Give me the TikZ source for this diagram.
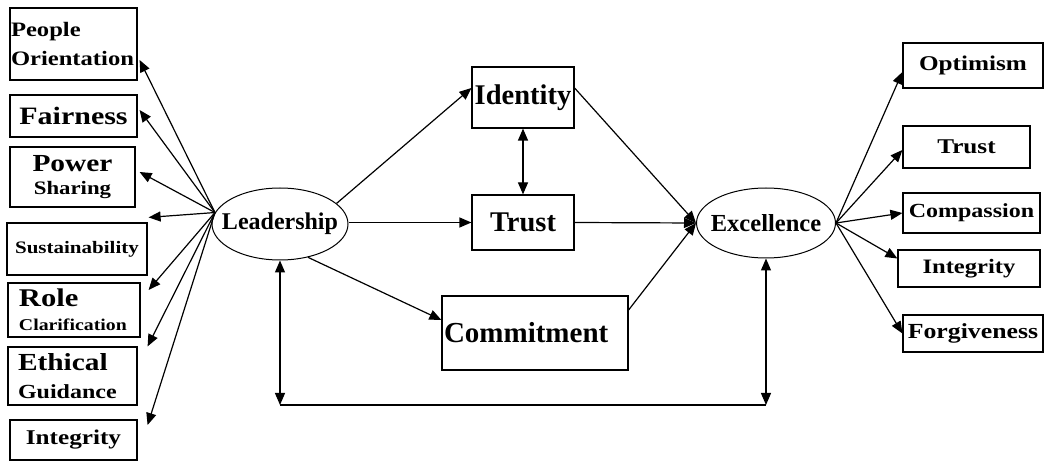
\documentclass[tikz,border=0pt]{standalone}
\usepackage{fontspec}
\setmainfont{Liberation Serif}
\newfontfamily\wide{Liberation Serif}[FakeStretch=1.2]
\usetikzlibrary{arrows.meta,shapes.geometric}
\newcommand\fsz[2]{\fontsize{#1}{#2}\selectfont}
\begin{document}
\begin{tikzpicture}[x=1pt,y=-1pt,
  every node/.style={inner sep=0pt},
  box/.style={draw,line width=1.2pt,font=\wide\bfseries},
  cbox/.style={draw,line width=1.2pt,font=\bfseries},
  oval/.style={draw,ellipse,line width=1pt,font=\bfseries},
  ar/.style={line width=1.2pt,-{Triangle[length=12pt,width=10pt]}},
  dar/.style={line width=1.2pt,{Triangle[length=12pt,width=10pt]}-{Triangle[length=12pt,width=10pt]}}]
\useasboundingbox (0,0) rectangle (1045,470);

% left boxes
\node[box,minimum width=127,minimum height=72,text width=125,align=left] (po) at (73.5,44) {\fsz{20.5}{20}People\\[9pt]Orientation};
\node[box,minimum width=127,minimum height=42] (fa) at (73.5,116) {\fsz{25}{25}Fairness};
\node[box,minimum width=125,minimum height=60,align=center] (ps) at (72.5,177) {\fsz{24.5}{24}Power\\[9pt]\fsz{19}{22}Sharing};
\node[box,minimum width=140,minimum height=52] (su) at (77,249) {\fsz{17.5}{17}Sustainability};
\node[box,minimum width=132,minimum height=54,text width=110,align=left] (rc) at (74,310) {\fsz{25.5}{25}Role\\[12pt]\fsz{16.5}{19}Clarification};
\node[box,minimum width=129,minimum height=58,text width=109,align=left] (eg) at (72.5,376) {\fsz{24.5}{25}Ethical\\[13pt]\fsz{20}{24}Guidance};
\node[box,minimum width=127,minimum height=40] (in) at (73.5,440) {\fsz{21}{21}Integrity};

% ellipses
\node[oval,minimum width=136,minimum height=72] (ld) at (280,224) {\makebox[0pt]{\fsz{24}{24}Leadership}};
\node[oval,minimum width=139,minimum height=70] (ex) at (766,223) {\makebox[0pt]{\fsz{24.5}{24}Excellence}};

% centre boxes
\node[cbox,minimum width=102,minimum height=61] (id) at (523,97.5) {\fsz{28.5}{28}Identity};
\node[cbox,minimum width=102,minimum height=55] (tr) at (523,222.5) {\fsz{28.5}{28}Trust};
\node[cbox,minimum width=186,minimum height=74,text width=184,align=left] (cm) at (535,333) {\hspace{1pt}\fsz{29}{29}Commitment};

% right boxes
\node[box,minimum width=140,minimum height=45] (op) at (973,65.5) {\fsz{21}{21}Optimism};
\node[box,minimum width=127,minimum height=42] (t2) at (966.5,147) {\fsz{21}{21}Trust};
\node[box,minimum width=137,minimum height=40] (co) at (971.5,213) {\fsz{20}{20}Compassion};
\node[box,minimum width=142,minimum height=37] (ig) at (969,268.5) {\fsz{20.5}{20}Integrity};
\node[box,minimum width=140,minimum height=37] (fo) at (973,333.5) {\fsz{21.5}{21}Forgiveness};

% leadership to left boxes
\draw[ar] (ld.170) -- ([xshift=2pt,yshift=-16pt]po.east);
\draw[ar] (ld.170) -- ([xshift=2pt,yshift=6pt]fa.east);
\draw[ar] (ld.170) -- ([xshift=4pt,yshift=5pt]ps.east);
\draw[ar] (ld.170) -- ([xshift=1pt,yshift=5pt]su.north east);
\draw[ar] (ld.170) -- ([xshift=8pt,yshift=20pt]rc.east);
\draw[ar] (ld.170) -- ([xshift=10pt]eg.north east);
\draw[ar] (ld.170) -- ([xshift=10pt,yshift=15pt]in.east);

% excellence to right boxes
\draw[ar] (ex.east) -- ([yshift=-6.5pt]op.west);
\draw[ar] (ex.east) -- ([yshift=-3pt]t2.west);
\draw[ar] (ex.east) -- (co.west);
\draw[ar] (ex.east) -- ([yshift=10pt]ig.west);
\draw[ar] (ex.east) -- (fo.west);

% centre connectors
\draw[ar] (ld.20) -- ([yshift=9.5pt]id.west);
\draw[ar] (ld.east |- tr.west) -- (tr.west);
\draw[ar] (ld.-50) -- ([yshift=13pt]cm.west);
\draw[dar] (id.south) -- (tr.north);
\draw[ar] ([yshift=9.5pt]id.east) -- (ex.west);
\draw[ar] (tr.east) -- (ex.west);
\draw[ar] ([yshift=23pt]cm.east) -- (ex.west);

% bottom link
\coordinate (bl) at (280,405);
\coordinate (br) at (766,405);
\draw[dar] (ld.south) -- (bl);
\draw[dar] (ex.south) -- (br);
\draw[line width=1.2pt] (bl) -- (br);
\end{tikzpicture}
\end{document}
